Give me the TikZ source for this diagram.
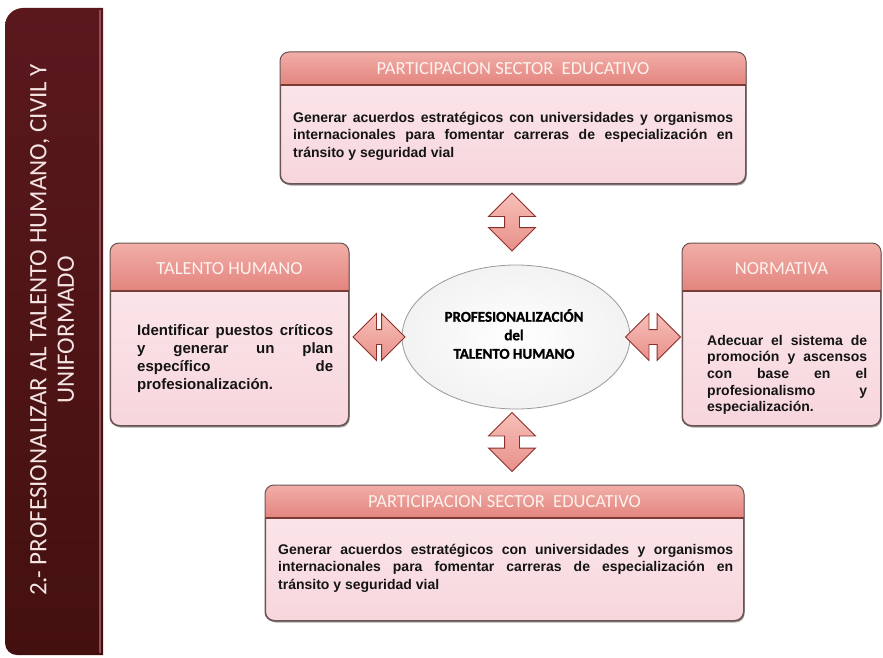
\documentclass[tikz,border=0pt]{standalone}
\usepackage{fontspec}
\setmainfont{Liberation Sans}
\newfontfamily\capfont{Carlito}
\newfontfamily\hubfont[BoldFeatures={FakeBold=1.3}]{Carlito}
\usetikzlibrary{shapes.geometric,shapes.arrows,shadows}

% palette
\definecolor{bannerfill}{HTML}{5A181D}
\definecolor{bannerdeep}{HTML}{44100F}
\definecolor{bannerrim}{HTML}{8E5055}
\definecolor{bannerink}{HTML}{F4E4E4}
\definecolor{headtop}{HTML}{F2AEA8}
\definecolor{headbot}{HTML}{E3847E}
\definecolor{headline}{HTML}{7A3A36}
\definecolor{headink}{HTML}{FDF2EE}
\definecolor{bodytop}{HTML}{FCEAEE}
\definecolor{bodybot}{HTML}{F7D6DC}
\definecolor{paneledge}{HTML}{6A5556}
\definecolor{bodyink}{HTML}{141414}
\definecolor{arrowlight}{HTML}{F6C0B8}
\definecolor{arrowmid}{HTML}{E8908A}
\definecolor{arrowedge}{HTML}{8C2F2B}

\tikzset{
  panel/.style={draw=paneledge, line width=1pt, rounded corners=9pt,
    top color=bodytop, bottom color=bodybot, inner sep=0pt,
    drop shadow={shadow xshift=1.2pt, shadow yshift=-2pt, opacity=0.45, fill=black!75}},
  panelrim/.style={draw=paneledge, line width=1pt, rounded corners=9pt},
  headband/.style={top color=headtop, bottom color=headbot},
  headrule/.style={draw=headline, line width=1.2pt},
  headtext/.style={font=\capfont\fontsize{18.5}{21}\selectfont, text=headink, inner sep=0pt},
  bodytext/.style={font=\bfseries\fontsize{14}{17.5}\selectfont, text=bodyink,
    align=justify, inner sep=0pt, anchor=north west},
  link/.style={double arrow, double arrow head extend=16pt, inner sep=7pt,
    minimum height=#1, draw=arrowedge, line width=0.9pt,
    top color=arrowlight, bottom color=arrowmid},
  hub/.style={ellipse, minimum width=228pt, minimum height=144pt,
    inner color=white, outer color=black!5, draw=black!40, line width=0.8pt},
  hubtext/.style={font=\hubfont\bfseries\fontsize{15}{18.5}\selectfont, align=center,
    text=black, inner sep=0pt},
}

% panel with a coloured header band of the given height
\newcommand{\headband}[2]{%
  \begin{scope}
    \clip[rounded corners=9pt] (#1.north west) rectangle (#1.south east);
    \fill[headband] (#1.north west) rectangle ([yshift=-#2]#1.north east);
    \draw[headrule] ([yshift=-#2]#1.north west) -- ([yshift=-#2]#1.north east);
  \end{scope}
  \draw[panelrim] (#1.north west) rectangle (#1.south east);
}

\begin{document}
\begin{tikzpicture}[x=1pt,y=-1pt]
  \useasboundingbox (0,0) rectangle (883,658);
  \fill[white] (0,0) rectangle (883,658);

  % side banner
  \shade[top color=bannerfill, bottom color=bannerdeep]
    (103,8) -- (103,655) [rounded corners=12pt] -- (5,655) [rounded corners=18pt] -- (5,8) [sharp corners] -- cycle;
  \draw[bannerrim, line width=1.2pt] (100,10) -- (100,653);
  \node[rotate=90, align=center, text=bannerink, inner sep=0pt,
        font=\capfont\fontsize{25}{27.5}\selectfont] (title) at (52,330)
    {2.- PROFESIONALIZAR AL TALENTO HUMANO, CIVIL Y\\UNIFORMADO};

  % panels
  \node[panel, anchor=north west, minimum width=465pt, minimum height=131pt] (tp) at (280,52) {};
  \headband{tp}{33pt}
  \node[headtext] (tph) at ([yshift=-17pt]tp.north) {PARTICIPACION SECTOR\ \ EDUCATIVO};
  \node[bodytext, text width=440pt] (tpb) at (293,112)
    {Generar acuerdos estratégicos con universidades y organismos\linebreak
     internacionales para fomentar carreras de especialización en\linebreak
     tránsito y seguridad vial};

  \node[panel, anchor=north west, minimum width=478pt, minimum height=135pt] (bp) at (265,485) {};
  \headband{bp}{33pt}
  \node[headtext] (bph) at ([yshift=-17pt]bp.north) {PARTICIPACION SECTOR\ \ EDUCATIVO};
  \node[bodytext, text width=455pt] (bpb) at (278,544)
    {Generar acuerdos estratégicos con universidades y organismos\linebreak
     internacionales para fomentar carreras de especialización en\linebreak
     tránsito y seguridad vial};

  \node[panel, anchor=north west, minimum width=238pt, minimum height=182pt] (lp) at (110,243) {};
  \headband{lp}{48pt}
  \node[headtext] (lph) at ([yshift=-26pt]lp.north) {TALENTO HUMANO};
  \node[bodytext, text width=196pt, font=\bfseries\fontsize{15}{18}\selectfont] (lpb) at (137,324)
    {Identificar puestos críticos\linebreak
     y generar un plan\linebreak
     específico de\linebreak
     profesionalización.};

  \node[panel, anchor=north west, minimum width=198pt, minimum height=182pt] (rp) at (682,243) {};
  \headband{rp}{48pt}
  \node[headtext] (rph) at ([yshift=-26pt]rp.north) {NORMATIVA};
  \node[bodytext, text width=160pt, font=\bfseries\fontsize{14}{16.6}\selectfont] (rpb) at (707,335)
    {Adecuar el sistema de\linebreak
     promoción y ascensos\linebreak
     con base en el\linebreak
     profesionalismo y\linebreak
     especialización.};

  % central hub
  \node[hub] (core) at (516,337) {};
  \node[hubtext] (coretext) at (514,334) {PROFESIONALIZACIÓN\\del\\TALENTO HUMANO};

  % two-way links between the hub and the panels
  \node[link=58pt, rotate=90] (lu) at (512,222) {};
  \node[link=59pt, rotate=90] (ld) at (512,442) {};
  \node[link=52pt] (ll) at (379,337) {};
  \node[link=55pt] (lr) at (653,337) {};
\end{tikzpicture}
\end{document}
